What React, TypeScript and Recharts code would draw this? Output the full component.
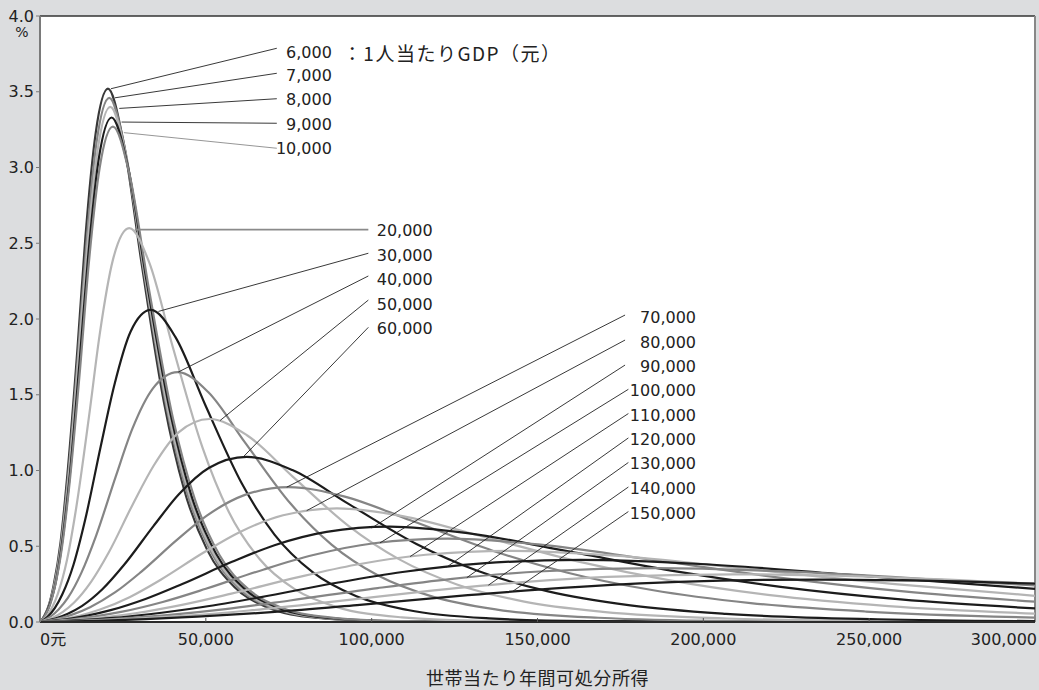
import { CartesianGrid, Label, Line, LineChart, ReferenceDot, ReferenceLine, XAxis, YAxis } from 'recharts';

type Pt = [number, number];

// 世帯当たり年間可処分所得（元） → 世帯の割合（%）
const g6000: Pt[] = [[0, 0], [800, 0.023], [1500, 0.049], [2800, 0.12], [4100, 0.241], [6200, 0.526], [8300, 0.983], [11300, 1.804], [13700, 2.544], [16800, 3.229], [20500, 3.52], [25000, 3.189], [30600, 2.371], [37400, 1.447], [43400, 0.878], [50400, 0.476], [58600, 0.231], [68100, 0.101], [83100, 0.028], [101500, 0.006], [151500, 0.0002], [300000, 0]];
const g7000: Pt[] = [[0, 0], [900, 0.023], [1600, 0.048], [2800, 0.118], [4200, 0.237], [6300, 0.517], [8500, 0.966], [11500, 1.774], [14000, 2.501], [17100, 3.174], [20900, 3.46], [25500, 3.135], [31200, 2.331], [38100, 1.422], [44200, 0.863], [51400, 0.468], [59700, 0.227], [69400, 0.099], [84800, 0.027], [103500, 0.006], [154400, 0.0002], [300000, 0]];
const g8000: Pt[] = [[0, 0], [900, 0.023], [1600, 0.048], [2900, 0.116], [4300, 0.233], [6400, 0.508], [8600, 0.949], [11600, 1.743], [14200, 2.457], [17400, 3.119], [21200, 3.4], [25900, 3.08], [31600, 2.291], [38600, 1.398], [44900, 0.848], [52100, 0.46], [60600, 0.223], [70400, 0.097], [86000, 0.027], [105000, 0.006], [156600, 0.0002], [300000, 0]];
const g9000: Pt[] = [[0, 0], [900, 0.022], [1600, 0.047], [2900, 0.114], [4400, 0.228], [6500, 0.498], [8800, 0.93], [11900, 1.707], [14500, 2.407], [17700, 3.055], [21600, 3.33], [26400, 3.017], [32200, 2.243], [39400, 1.369], [45700, 0.831], [53100, 0.451], [61700, 0.219], [71700, 0.095], [87600, 0.026], [107000, 0.006], [159600, 0.0002], [300000, 0]];
const g10000: Pt[] = [[0, 0], [900, 0.022], [1600, 0.046], [3000, 0.112], [4400, 0.224], [6600, 0.489], [8900, 0.913], [12100, 1.676], [14700, 2.363], [18000, 3.0], [22000, 3.27], [26900, 2.963], [32800, 2.203], [40100, 1.344], [46600, 0.816], [54100, 0.442], [62900, 0.215], [73000, 0.093], [89200, 0.026], [109000, 0.006], [162600, 0.0002], [300000, 0]];
const g20000: Pt[] = [[0, 0], [1100, 0.018], [2000, 0.039], [3600, 0.094], [5400, 0.188], [8100, 0.406], [10900, 0.751], [14800, 1.36], [18000, 1.899], [22000, 2.392], [26900, 2.6], [32900, 2.375], [40100, 1.81], [49000, 1.151], [56900, 0.728], [66200, 0.416], [76900, 0.215], [89300, 0.1], [109100, 0.031], [133200, 0.008], [198800, 0.0003], [300000, 0]];
const g30000: Pt[] = [[0, 0], [1400, 0.019], [2500, 0.039], [4500, 0.093], [6700, 0.181], [10100, 0.378], [13600, 0.673], [18300, 1.159], [22400, 1.563], [27300, 1.916], [33400, 2.06], [40800, 1.882], [49800, 1.434], [60900, 0.912], [70700, 0.577], [82200, 0.329], [95400, 0.17], [110900, 0.079], [135400, 0.024], [165400, 0.006], [246800, 0.0002], [300000, 0]];
const g40000: Pt[] = [[0, 0], [1700, 0.017], [3100, 0.035], [5600, 0.083], [8400, 0.159], [12500, 0.326], [16900, 0.569], [22800, 0.958], [27800, 1.273], [34000, 1.541], [41500, 1.65], [50700, 1.518], [61900, 1.182], [75600, 0.78], [87900, 0.511], [102100, 0.305], [118600, 0.166], [137800, 0.082], [168300, 0.028], [205500, 0.008], [300000, 0.0004]];
const g50000: Pt[] = [[0, 0], [2100, 0.014], [3800, 0.028], [6900, 0.067], [10300, 0.129], [15400, 0.265], [20800, 0.462], [28000, 0.778], [34300, 1.033], [41800, 1.252], [51100, 1.34], [62400, 1.233], [76200, 0.96], [93100, 0.633], [108200, 0.415], [125700, 0.248], [146000, 0.135], [169700, 0.067], [207200, 0.023], [253100, 0.0065], [300000, 0.002]];
const g60000: Pt[] = [[0, 0], [2500, 0.011], [4600, 0.023], [8400, 0.055], [12600, 0.105], [18800, 0.216], [25300, 0.376], [34200, 0.633], [41800, 0.841], [51000, 1.018], [62300, 1.09], [76100, 1.003], [92900, 0.781], [113500, 0.515], [131900, 0.338], [153200, 0.202], [178000, 0.11], [206800, 0.054], [252600, 0.018], [300000, 0.006]];
const g70000: Pt[] = [[0, 0], [3100, 0.011], [5600, 0.022], [10100, 0.052], [15100, 0.098], [22600, 0.195], [30500, 0.331], [41200, 0.54], [50300, 0.702], [61400, 0.836], [75000, 0.89], [91600, 0.829], [111900, 0.67], [136700, 0.469], [158800, 0.327], [184500, 0.211], [214300, 0.125], [249000, 0.069], [300000, 0.029]];
const g80000: Pt[] = [[0, 0], [3700, 0.009], [6600, 0.019], [12100, 0.043], [18100, 0.082], [27000, 0.164], [36400, 0.279], [49100, 0.455], [60000, 0.591], [73300, 0.705], [89500, 0.75], [109300, 0.699], [133500, 0.564], [163100, 0.395], [189500, 0.276], [220100, 0.177], [255800, 0.105], [300000, 0.055]];
const g90000: Pt[] = [[0, 0], [4300, 0.009], [7800, 0.018], [14300, 0.042], [21300, 0.078], [31800, 0.152], [42900, 0.251], [57900, 0.397], [70700, 0.507], [86400, 0.595], [105500, 0.63], [128900, 0.587], [157400, 0.474], [192200, 0.332], [223300, 0.232], [259500, 0.149], [300000, 0.09]];
const g100000: Pt[] = [[0, 0], [5000, 0.008], [9100, 0.016], [16600, 0.037], [24800, 0.068], [37000, 0.132], [50000, 0.219], [67500, 0.347], [82400, 0.442], [100700, 0.52], [123000, 0.55], [150200, 0.512], [183500, 0.414], [224100, 0.29], [260400, 0.202], [300000, 0.134]];
const g110000: Pt[] = [[0, 0], [5800, 0.007], [10600, 0.014], [19200, 0.031], [28700, 0.058], [42800, 0.113], [57700, 0.187], [77900, 0.296], [95200, 0.378], [116300, 0.444], [142000, 0.47], [173400, 0.438], [211800, 0.354], [258700, 0.248], [300000, 0.173]];
const g120000: Pt[] = [[0, 0], [6700, 0.006], [12100, 0.012], [22100, 0.027], [32900, 0.051], [49100, 0.099], [66300, 0.163], [89500, 0.259], [109300, 0.33], [133400, 0.387], [163000, 0.41], [199100, 0.383], [243200, 0.313], [300000, 0.219]];
const g130000: Pt[] = [[0, 0], [7600, 0.005], [13800, 0.01], [25100, 0.024], [37500, 0.044], [55900, 0.085], [75400, 0.142], [101800, 0.224], [124300, 0.285], [151900, 0.335], [185500, 0.355], [226600, 0.332], [276700, 0.271], [300000, 0.241]];
const g140000: Pt[] = [[0, 0], [8500, 0.0045], [15500, 0.009], [28300, 0.021], [42200, 0.039], [63000, 0.076], [85000, 0.126], [114700, 0.199], [140100, 0.253], [171100, 0.298], [209000, 0.315], [255300, 0.295], [300000, 0.253]];
const g150000: Pt[] = [[0, 0], [9600, 0.004], [17500, 0.008], [31800, 0.019], [47400, 0.035], [70800, 0.067], [95600, 0.112], [129000, 0.177], [157500, 0.225], [192400, 0.265], [235000, 0.28], [287000, 0.262], [300000, 0.253]];

const xTicks = [0, 50000, 100000, 150000, 200000, 250000, 300000];
const yTicks = [0, 0.5, 1, 1.5, 2, 2.5, 3, 3.5, 4];

const BLACK = '#1c1c1c';
const MID = '#858585';
const LIGHT = '#b5b5b5';

const series = [
  { gdp: 6000, pts: g6000, color: '#383838' },
  { gdp: 7000, pts: g7000, color: MID },
  { gdp: 8000, pts: g8000, color: LIGHT },
  { gdp: 9000, pts: g9000, color: BLACK },
  { gdp: 10000, pts: g10000, color: MID },
  { gdp: 20000, pts: g20000, color: LIGHT },
  { gdp: 30000, pts: g30000, color: BLACK },
  { gdp: 40000, pts: g40000, color: MID },
  { gdp: 50000, pts: g50000, color: LIGHT },
  { gdp: 60000, pts: g60000, color: BLACK },
  { gdp: 70000, pts: g70000, color: MID },
  { gdp: 80000, pts: g80000, color: LIGHT },
  { gdp: 90000, pts: g90000, color: BLACK },
  { gdp: 100000, pts: g100000, color: MID },
  { gdp: 110000, pts: g110000, color: LIGHT },
  { gdp: 120000, pts: g120000, color: BLACK },
  { gdp: 130000, pts: g130000, color: MID },
  { gdp: 140000, pts: g140000, color: LIGHT },
  { gdp: 150000, pts: g150000, color: BLACK },
];

// 引き出し線: 曲線上の点 → ラベル脇、ラベルは右寄せ位置
type Leader = { gdp: number; from: Pt; to: Pt; at: Pt; stroke?: string; width?: number };
const leaders: Leader[] = [
  { gdp: 6000, from: [21400, 3.52], to: [71400, 3.787], at: [88000, 3.762] },
  { gdp: 7000, from: [22600, 3.46], to: [71400, 3.622], at: [88000, 3.604] },
  { gdp: 8000, from: [23900, 3.39], to: [71400, 3.454], at: [88000, 3.446] },
  { gdp: 9000, from: [24600, 3.3], to: [71400, 3.292], at: [88000, 3.284] },
  { gdp: 10000, from: [25300, 3.23], to: [71400, 3.127], at: [88000, 3.125], stroke: '#8a8a8a' },
  { gdp: 20000, from: [28600, 2.59], to: [99000, 2.59], at: [118400, 2.587], stroke: '#8a8a8a', width: 1.6 },
  { gdp: 30000, from: [35700, 2.05], to: [99000, 2.434], at: [118400, 2.422] },
  { gdp: 40000, from: [41700, 1.65], to: [99000, 2.284], at: [118400, 2.262] },
  { gdp: 50000, from: [54300, 1.33], to: [99000, 2.125], at: [118400, 2.099] },
  { gdp: 60000, from: [61300, 1.09], to: [99000, 1.945], at: [118400, 1.939] },
  { gdp: 70000, from: [74400, 0.89], to: [176400, 2.026], at: [197800, 2.011] },
  { gdp: 80000, from: [80400, 0.735], to: [176400, 1.861], at: [197800, 1.846] },
  { gdp: 90000, from: [100000, 0.62], to: [176400, 1.696], at: [197800, 1.685] },
  { gdp: 100000, from: [102500, 0.522], to: [177400, 1.536], at: [197800, 1.527] },
  { gdp: 110000, from: [111600, 0.432], to: [177400, 1.376], at: [197800, 1.366] },
  { gdp: 120000, from: [122600, 0.362], to: [177400, 1.215], at: [197800, 1.206] },
  { gdp: 130000, from: [128700, 0.293], to: [177400, 1.053], at: [197800, 1.043] },
  { gdp: 140000, from: [135200, 0.243], to: [177400, 0.891], at: [197800, 0.878] },
  { gdp: 150000, from: [142300, 0.199], to: [177400, 0.729], at: [197800, 0.717] },
];

const NUM_FONT = '"DejaVu Sans", "Noto Sans CJK JP", sans-serif';
const JP_FONT = '"Noto Sans CJK JP", sans-serif';
const TEXT = '#222';

const fmt = (v: number) => String(v).replace(/\B(?=(\d{3})+(?!\d))/g, ',');

function YTick({ x, y, payload }: any) {
  const v = payload.value as number;
  return (
    <g>
      <text x={x} y={y} textAnchor="end" dominantBaseline="central" fontFamily={NUM_FONT} fontSize={16} fill={TEXT}>
        {v.toFixed(1)}
      </text>
      {v === 4 && (
        <text x={x - 12} y={y + 16} textAnchor="middle" dominantBaseline="central" fontFamily={NUM_FONT} fontSize={14} fill={TEXT}>
          %
        </text>
      )}
    </g>
  );
}

function XTick({ x, y, payload }: any) {
  const v = payload.value as number;
  const first = v === xTicks[0];
  const last = v === xTicks[xTicks.length - 1];
  return (
    <g>
      {!first && !last && <line x1={x} x2={x} y1={y} y2={y - 4} stroke="#555" strokeWidth={1} />}
      <text
        x={last ? x + 2 : x}
        y={y + 17}
        textAnchor={first ? 'start' : last ? 'end' : 'middle'}
        dominantBaseline="central"
        fontFamily={NUM_FONT}
        fontSize={16}
        fill={TEXT}
      >
        {first ? '0元' : fmt(v)}
      </text>
    </g>
  );
}

function gdpLabel(gdp: number) {
  return (props: any) => {
    const vb = props.viewBox ?? {};
    const x = (vb.x ?? 0) + (vb.width ?? 0) / 2;
    const y = (vb.y ?? 0) + (vb.height ?? 0) / 2;
    return (
      <g>
        <text x={x} y={y} textAnchor="end" dominantBaseline="central" fontFamily={NUM_FONT} fontSize={16} fill={TEXT}>
          {fmt(gdp)}
        </text>
        {gdp === 6000 && (
          <text
            x={x + 11}
            y={y}
            textAnchor="start"
            dominantBaseline="central"
            fontFamily={JP_FONT}
            fontSize={19}
            letterSpacing={1.5}
            fill={TEXT}
          >
            ：1人当たりGDP（元）
          </text>
        )}
      </g>
    );
  };
}

function AxisTitle(props: any) {
  const vb = props.viewBox ?? {};
  return (
    <text
      x={vb.x + vb.width / 2}
      y={vb.y + 55}
      textAnchor="middle"
      dominantBaseline="central"
      fontFamily={JP_FONT}
      fontSize={18}
      letterSpacing={0.6}
      fill={TEXT}
    >
      世帯当たり年間可処分所得
    </text>
  );
}

export default function App() {
  return (
    <div style={{ width: 1039, height: 690, background: '#dcdddf' }}>
      <style>{'body{margin:0}'}</style>
      <LineChart width={1039} height={690} margin={{ top: 16, right: 4, left: 0, bottom: 0 }}>
        <CartesianGrid horizontal={false} vertical={false} fill="#fff" />
        <XAxis
          type="number"
          dataKey="x"
          domain={[0, 300000]}
          ticks={xTicks}
          allowDataOverflow
          height={68}
          tickSize={0}
          tickMargin={0}
          tickLine={false}
          axisLine={{ stroke: '#2a2a2a', strokeWidth: 2 }}
          tick={<XTick />}
          interval={0}
        >
          <Label content={<AxisTitle />} />
        </XAxis>
        <YAxis
          type="number"
          domain={[0, 4]}
          ticks={yTicks}
          width={40}
          tickSize={4}
          tickMargin={2}
          tickLine={{ stroke: '#7a7a7a' }}
          axisLine={{ stroke: '#7a7a7a', strokeWidth: 2 }}
          tick={<YTick />}
          interval={0}
        />
        <ReferenceLine y={4} stroke="#333" strokeWidth={1.5} />
        <ReferenceLine x={300000} stroke="#888" strokeWidth={2} />
        {series.map((s) => (
          <Line
            key={s.gdp}
            data={s.pts.map(([x, y]) => ({ x, y }))}
            dataKey="y"
            type="monotone"
            stroke={s.color}
            strokeWidth={2.2}
            dot={false}
            activeDot={false}
            isAnimationActive={false}
          />
        ))}
        {leaders.map((l) => (
          <ReferenceLine
            key={`l${l.gdp}`}
            segment={[
              { x: l.from[0], y: l.from[1] },
              { x: l.to[0], y: l.to[1] },
            ]}
            stroke={l.stroke ?? '#222'}
            strokeWidth={l.width ?? 0.9}
          />
        ))}
        {leaders.map((l) => (
          <ReferenceDot key={`t${l.gdp}`} x={l.at[0]} y={l.at[1]} r={0} stroke="none" fill="none" label={gdpLabel(l.gdp)} />
        ))}
      </LineChart>
    </div>
  );
}
